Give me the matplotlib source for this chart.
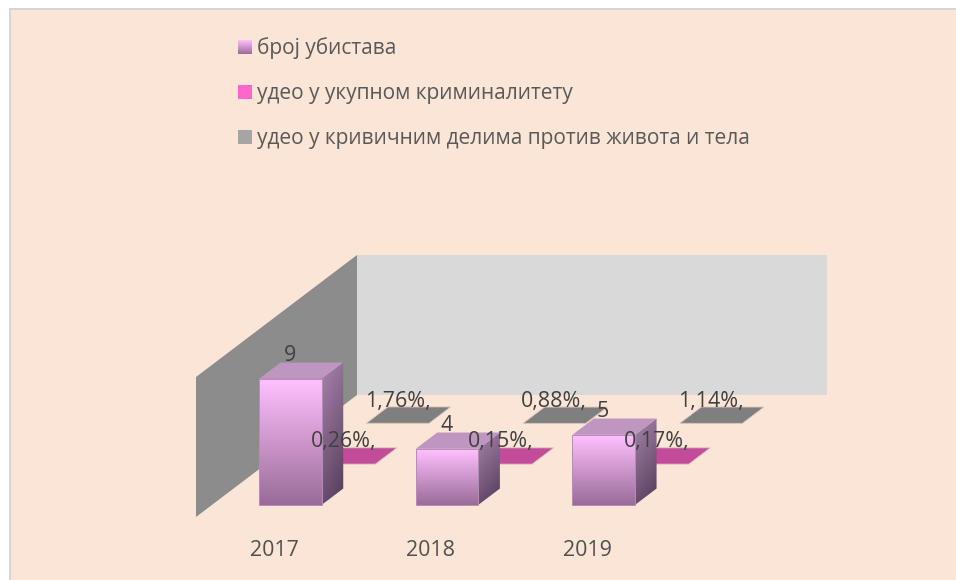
#!/usr/bin/env python3

import numpy as np
import matplotlib
matplotlib.use('Agg') # For headless use.
import matplotlib.pyplot as plt
from matplotlib.colors import LinearSegmentedColormap
from matplotlib.patches import Polygon, Rectangle


# DATA
years = ['2017', '2018', '2019']
series_names = ['број убистава',
                'удео у укупном криминалитету',
                'удео у кривичним делима против живота и тела']
murders = [9, 4, 5]
share_total = [0.0026, 0.0015, 0.0017]
share_against_life = [0.0176, 0.0088, 0.0114]
labels_murders = ['9', '4', '5']
labels_total = ['0,26%,', '0,15%,', '0,17%,']
labels_life = ['1,76%,', '0,88%,', '1,14%,']
y_max = 10


# SETTINGS
W, H = 956, 580
BG = '#FBE5D6'
TEXT = '#404040'
plt.rcParams['font.family'] = ['Open Sans', 'DejaVu Sans']

# Oblique projection of the 3D chart box, in pixels.
ORIGIN = np.array([196.0, 517.0])
CAT_STEP = 470.0 / len(years)
VAL_STEP = 14.0
DEPTH_VEC = np.array([161.0, -122.0]) / 3 # per series
BAR_W = 0.4
BAR_D = 0.4


def proj(cat, val, depth):
    p = ORIGIN + DEPTH_VEC * depth
    return (p[0] + cat * CAT_STEP, p[1] - val * VAL_STEP)


def grad_fill(ax, pts, c_top, c_bottom, zorder, tilt=0.0):
    # Gradient clipped to a polygon, vertical unless tilt is given.
    cmap = LinearSegmentedColormap.from_list('g', [c_top, c_bottom])
    pts = np.array(pts)
    yy, xx = np.mgrid[0:1:128j, 0:1:32j]
    im = ax.imshow(yy * (1 - tilt) + xx * tilt, cmap=cmap, aspect='auto',
                   extent=(pts[:, 0].min(), pts[:, 0].max(), pts[:, 1].max(), pts[:, 1].min()),
                   zorder=zorder)
    im.set_clip_path(Polygon(pts, closed=True, transform=ax.transData))


def box(cat, series):
    x0 = cat + (1 - BAR_W) / 2
    d0 = series + (1 - BAR_D) / 2
    return x0, x0 + BAR_W, d0, d0 + BAR_D


fig = plt.figure(figsize=(W / 100, H / 100), dpi=100, facecolor='white')
ax = fig.add_axes([0, 0, 1, 1])
ax.axis('off')

# Chart area: it runs off the right and bottom of the picture.
ax.add_patch(Rectangle((9, 8), W - 9, H - 8, fc='#D4D4D4', ec='none', zorder=0))
ax.add_patch(Rectangle((11, 10), W - 11, H - 10, fc=BG, ec='none', zorder=1))

# Walls
n_cat = len(years)
ax.add_patch(Polygon([proj(0, 0, 0), proj(0, y_max, 0), proj(0, y_max, 3), proj(0, 0, 3)],
                     closed=True, fc='#8C8C8C', ec='none', zorder=2))
ax.add_patch(Polygon([proj(0, 0, 3), proj(0, y_max, 3), proj(n_cat, y_max, 3), proj(n_cat, 0, 3)],
                     closed=True, fc='#D9D9D9', ec='none', zorder=2))

# Back series first, so that nearer ones overlap them.
for series, values, color in ((2, share_against_life, '#7F7F7F'),
                              (1, share_total, '#C24C99')):
    for i, v in enumerate(values):
        x0, x1, d0, d1 = box(i, series)
        ax.add_patch(Polygon([proj(x0, v, d0), proj(x1, v, d0), proj(x1, v, d1), proj(x0, v, d1)],
                             closed=True, fc=color, ec='#D8C4BC', lw=0.6, zorder=3 + (2 - series)))

for i, v in enumerate(murders):
    x0, x1, d0, d1 = box(i, 0)
    z = 6
    # right side
    grad_fill(ax, [proj(x1, v, d0), proj(x1, v, d1), proj(x1, 0, d1), proj(x1, 0, d0)],
              '#A684AA', '#543A5A', z, tilt=0.25)
    # top
    ax.add_patch(Polygon([proj(x0, v, d0), proj(x1, v, d0), proj(x1, v, d1), proj(x0, v, d1)],
                         closed=True, fc='#BE96C0', ec='none', zorder=z))
    # front
    grad_fill(ax, [proj(x0, v, d0), proj(x1, v, d0), proj(x1, 0, d0), proj(x0, 0, d0)],
              '#FFC0FF', '#9A6C98', z)
    ax.add_patch(Polygon([proj(x0, v, d0), proj(x1, v, d0), proj(x1, 0, d0), proj(x0, 0, d0)],
                         closed=True, fc='none', ec='#B58DB5', lw=0.7, zorder=z))

# Data labels
FS = 15.4
LABEL_DX = -11
for i in range(n_cat):
    x, y = proj(i + 0.5, murders[i], 0.5)
    ax.text(x + LABEL_DX - 0.5, y - 5, labels_murders[i], ha='center', va='bottom', fontsize=FS, color=TEXT, zorder=8)
    x, y = proj(i + 0.5, share_total[i], 1.5)
    ax.text(x + LABEL_DX, y - 4, labels_total[i], ha='center', va='bottom', fontsize=FS, color=TEXT, zorder=8)
    x, y = proj(i + 0.5, share_against_life[i], 2.5)
    ax.text(x + LABEL_DX, y - 3, labels_life[i], ha='center', va='bottom', fontsize=FS, color=TEXT, zorder=8)

# Category labels
for i, year in enumerate(years):
    x, _ = proj(i + 0.5, 0, 0)
    ax.text(x, 550, year, ha='center', va='center', fontsize=FS, color='#505050', zorder=8)

# Legend
legend_y = [40, 85, 130]
for name, ly, swatch in zip(series_names, legend_y, (None, '#FF66CC', '#A5A5A5')):
    if swatch is None:
        grad_fill(ax, [(238, ly), (252, ly), (252, ly + 14), (238, ly + 14)],
                  '#FFC0FF', '#9A6C98', 6)
    else:
        ax.add_patch(Rectangle((238, ly), 14, 14, fc=swatch, ec='none', zorder=6))
    ax.text(257, ly + 8.5, name, ha='left', va='center', fontsize=15.05, color='#595959', zorder=8)

ax.set_xlim(0, W)
ax.set_ylim(H, 0)
fig.savefig('out.png', dpi=100, facecolor='white')
plt.close()
